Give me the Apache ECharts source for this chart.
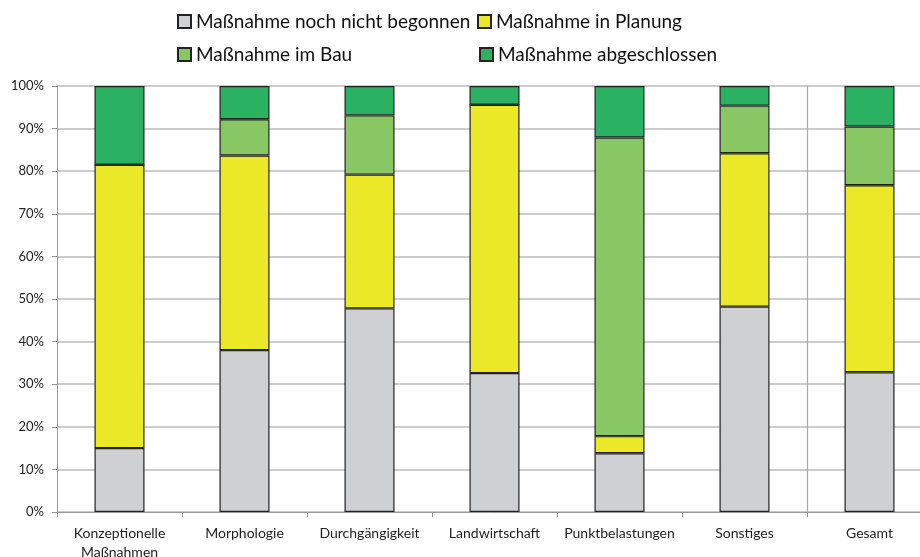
<!DOCTYPE html>
<html>
<head>
<meta charset="utf-8">
<script src="https://cdn.jsdelivr.net/npm/echarts@6/dist/echarts.min.js"></script>
<style>html,body{margin:0;padding:0;background:#fff;}#c{width:920px;height:557px;}</style>
</head>
<body>
<div id="c"></div>
<script>
var categories = ['Konzeptionelle\nMaßnahmen', 'Morphologie', 'Durchgängigkeit', 'Landwirtschaft', 'Punktbelastungen', 'Sonstiges', 'Gesamt'];
var seriesNames = ['Maßnahme noch nicht begonnen', 'Maßnahme in Planung', 'Maßnahme im Bau', 'Maßnahme abgeschlossen'];
var notStarted = [15.0, 38.0, 47.8, 32.6, 13.8, 48.2, 32.8];
var planning = [66.5, 45.7, 31.4, 63.0, 4.0, 36.0, 43.9];
var construction = [0, 8.5, 13.9, 0, 70.1, 11.2, 13.8];
var completed = [18.5, 7.8, 6.9, 4.4, 12.1, 4.6, 9.5];
var yTicks = [0, 10, 20, 30, 40, 50, 60, 70, 80, 90, 100];
var separatorAt = [6];

var colors = ['#cfd0d2', '#ebe828', '#88c764', '#2ab262'];
var dataSets = [notStarted, planning, construction, completed];
var FONT = 'Lato';

var chart = echarts.init(document.getElementById('c'));
var series = dataSets.map(function (d, i) {
  return {
    name: seriesNames[i],
    type: 'bar',
    stack: 'total',
    barWidth: 50,
    data: d,
    itemStyle: { color: colors[i], borderColor: '#222', borderWidth: 1.2 },
    emphasis: { disabled: true }
  };
});
series.push({
  type: 'line',
  xAxisIndex: 1,
  data: [],
  silent: true,
  markLine: {
    symbol: 'none',
    silent: true,
    label: { show: false },
    lineStyle: { color: '#aaa', width: 1.2, type: 'solid' },
    data: separatorAt.map(function (v) { return { xAxis: v }; })
  }
});

var legendPos = [[177, 12], [477, 12], [177, 45], [479, 45]];
var legends = seriesNames.map(function (n, i) {
  return {
    data: [n],
    left: legendPos[i][0],
    top: legendPos[i][1],
    icon: 'rect',
    itemWidth: 13,
    itemHeight: 13,
    itemGap: 0,
    padding: 0,
    textStyle: { fontFamily: FONT, fontSize: 19, color: '#111' },
    selectedMode: false
  };
});

chart.setOption({
  animation: false,
  backgroundColor: '#fff',
  legend: legends,
  grid: { left: 57, top: 86, width: 875, height: 426, outerBoundsMode: 'none', containLabel: false },
  xAxis: [{
    type: 'category',
    data: categories,
    axisLine: { lineStyle: { color: '#999', width: 1 } },
    axisTick: { show: true, length: 5, lineStyle: { color: '#999' } },
    axisLabel: { fontFamily: FONT, fontSize: 14, color: '#222', margin: 12, lineHeight: 19, interval: 0 },
    splitLine: { show: false }
  }, {
    type: 'value',
    min: 0,
    max: 7,
    show: false
  }],
  yAxis: {
    type: 'value',
    min: 0,
    max: 100,
    interval: 10,
    axisLine: { show: true, lineStyle: { color: '#999' } },
    axisTick: { show: true, length: 5, lineStyle: { color: '#999' } },
    axisLabel: {
      fontFamily: FONT, fontSize: 13, color: '#222', margin: 13,
      formatter: function (v) { return yTicks.indexOf(v) >= 0 ? v + '%' : ''; }
    },
    splitLine: { lineStyle: { color: '#bbb', width: 1.5 } }
  },
  series: series
});
</script>
</body>
</html>
